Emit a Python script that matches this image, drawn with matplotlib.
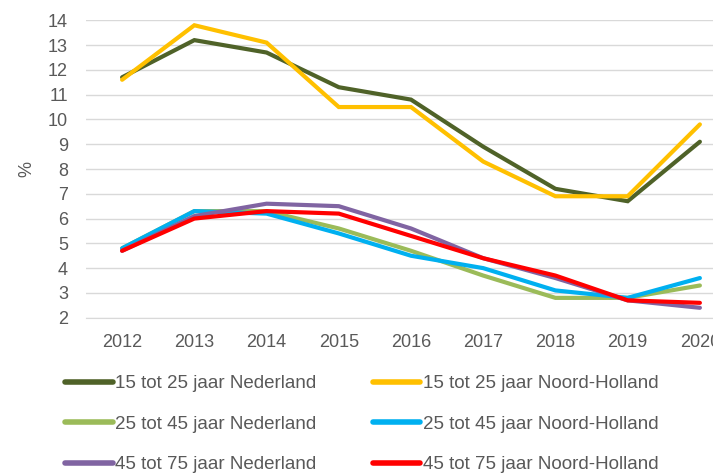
import matplotlib
matplotlib.use("Agg")
import matplotlib.pyplot as plt

plt.rcParams['font.family'] = ['Liberation Sans', 'DejaVu Sans']

years = [2012, 2013, 2014, 2015, 2016, 2017, 2018, 2019, 2020]
nl_15_25 = [11.7, 13.2, 12.7, 11.3, 10.8, 8.9, 7.2, 6.7, 9.1]
nh_15_25 = [11.6, 13.8, 13.1, 10.5, 10.5, 8.3, 6.9, 6.9, 9.8]
nl_25_45 = [4.8, 6.3, 6.3, 5.6, 4.7, 3.7, 2.8, 2.8, 3.3]
nh_25_45 = [4.8, 6.3, 6.2, 5.4, 4.5, 4.0, 3.1, 2.8, 3.6]
nl_45_75 = [4.7, 6.1, 6.6, 6.5, 5.6, 4.4, 3.6, 2.7, 2.4]
nh_45_75 = [4.7, 6.0, 6.3, 6.2, 5.3, 4.4, 3.7, 2.7, 2.6]

labels = ["15 tot 25 jaar Nederland", "15 tot 25 jaar Noord-Holland",
          "25 tot 45 jaar Nederland", "25 tot 45 jaar Noord-Holland",
          "45 tot 75 jaar Nederland", "45 tot 75 jaar Noord-Holland"]
series = [nl_15_25, nh_15_25, nl_25_45, nh_25_45, nl_45_75, nh_45_75]
colors = ["#4F6228", "#FFC000", "#9BBB59", "#00B0F0", "#8064A2", "#FF0000"]
yticks = list(range(2, 15))

fig = plt.figure(figsize=(7.13, 4.73), dpi=100)
ax = fig.add_axes([86/713, 1-317.7/473, 650/713, (317.7-20.3)/473])

handles = {}
for lab, vals, col in zip(labels, series, colors):
    h, = ax.plot(years, vals, color=col, lw=3.0, solid_capstyle='round',
                 solid_joinstyle='miter', label=lab)
    handles[lab] = h

ax.set_xlim(years[0]-0.5, years[-1]+0.5)
ax.set_ylim(2, 14)
ax.set_yticks(yticks)
ax.set_xticks(years)
ax.grid(axis='y', color='#D9D9D9', lw=1.0)
ax.set_axisbelow(True)
for s in ['top', 'right', 'left']:
    ax.spines[s].set_visible(False)
ax.spines['bottom'].set_color('#D9D9D9')
ax.tick_params(length=0, labelsize=13, labelcolor='#595959')
ax.tick_params(axis='y', pad=13)
ax.tick_params(axis='x', pad=12)
ax.set_ylabel('%', fontsize=13, color='#595959', labelpad=9)

order = [labels[0], labels[2], labels[4], labels[1], labels[3], labels[5]]
leg = fig.legend([handles[l] for l in order], order, ncol=2,
                 loc='upper left', bbox_to_anchor=(65/713, 1-375/473),
                 frameon=False, fontsize=13.5, handlelength=2.55,
                 handletextpad=0.12, columnspacing=3.0, labelspacing=1.25,
                 borderaxespad=0, borderpad=0)
for t in leg.get_texts():
    t.set_color('#595959')
for line in leg.get_lines():
    line.set_linewidth(4)

fig.savefig('out.png', dpi=100)
